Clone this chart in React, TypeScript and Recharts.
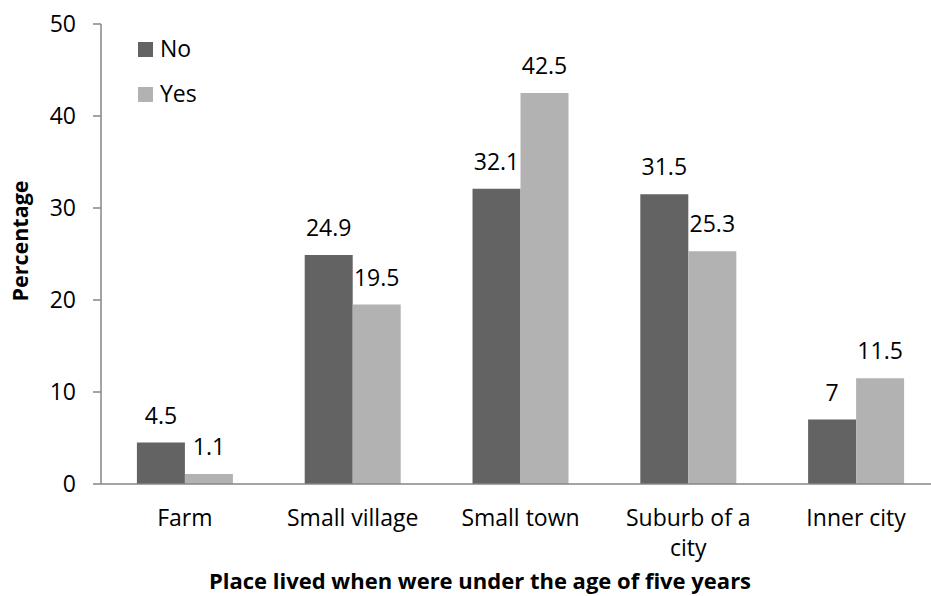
import React from 'react';
import { BarChart, Bar, XAxis, YAxis, LabelList, Legend } from 'recharts';

const categories = ['Farm', 'Small village', 'Small town', 'Suburb of a city', 'Inner city'];
const noValues = [4.5, 24.9, 32.1, 31.5, 7];
const yesValues = [1.1, 19.5, 42.5, 25.3, 11.5];
const yTicks = [0, 10, 20, 30, 40, 50];

const data = categories.map((c, i) => ({ place: c, No: noValues[i], Yes: yesValues[i] }));

const AXIS = '#868686';
const FONT = '"Open Sans", sans-serif';
const TICK_FONT_SIZE = 23;
const TICK_WRAP_WIDTH = 150;

if (typeof document !== 'undefined') {
  document.body.style.margin = '0';
}

let measureCtx: CanvasRenderingContext2D | null = null;
function wrapLabel(s: string, maxW: number): string[] {
  if (typeof document === 'undefined') return [s];
  if (!measureCtx) measureCtx = document.createElement('canvas').getContext('2d');
  if (!measureCtx) return [s];
  measureCtx.font = `${TICK_FONT_SIZE}px "Open Sans"`;
  const words = s.split(' ');
  const lines: string[] = [];
  let cur = '';
  for (const w of words) {
    const test = cur ? cur + ' ' + w : w;
    if (cur && measureCtx.measureText(test).width > maxW) {
      lines.push(cur);
      cur = w;
    } else {
      cur = test;
    }
  }
  if (cur) lines.push(cur);
  return lines;
}

const XTick = (props: any) => {
  const { x, y, payload } = props;
  const lines = wrapLabel(String(payload.value), TICK_WRAP_WIDTH);
  return (
    <text x={x} y={y} textAnchor="middle" fontSize={TICK_FONT_SIZE} fill="#000" fontFamily={FONT}>
      {lines.map((l, i) => (
        <tspan key={i} x={x} dy={i === 0 ? '0.71em' : 30}>
          {l}
        </tspan>
      ))}
    </text>
  );
};

const renderLegend = (props: any) => {
  const payload = props.payload || [];
  return (
    <svg width={220} height={120} style={{ display: 'block' }}>
      {payload.map((p: any, i: number) => (
        <g key={p.value}>
          <rect x={138} y={42 + i * 45} width={15} height={15} fill={p.color} />
          <text x={160} y={57 + i * 45} fontSize={23} fill="#000" fontFamily={FONT}>
            {p.value}
          </text>
        </g>
      ))}
    </svg>
  );
};

export default function App() {
  React.useLayoutEffect(() => {
    document.body.style.margin = '0';
  }, []);
  return (
    <div
      style={{
        width: 931,
        height: 596,
        overflow: 'hidden',
        position: 'relative',
        background: '#fff',
        fontFamily: FONT,
      }}
    >
      <BarChart
        width={960}
        height={596}
        data={data}
        margin={{ top: 24, right: 20, bottom: 32, left: 0 }}
        barCategoryGap="21.4%"
        barGap={0}
      >
        <XAxis
          dataKey="place"
          height={80}
          axisLine={{ stroke: AXIS, strokeWidth: 1.5 }}
          tickLine={false}
          tickSize={0}
          tickMargin={26}
          tick={<XTick />}
          interval={0}
          label={{
            content: () => (
              <text
                x={480}
                y={589}
                textAnchor="middle"
                fontSize={22}
                fontWeight="bold"
                fill="#000"
                fontFamily={FONT}
              >
                Place lived when were under the age of five years
              </text>
            ),
          }}
        />
        <YAxis
          width={101}
          domain={[0, 50]}
          ticks={yTicks}
          interval={0}
          axisLine={{ stroke: AXIS, strokeWidth: 1.5 }}
          tickLine={{ stroke: AXIS, strokeWidth: 1.5 }}
          tickSize={8}
          tickMargin={17}
          tick={{ fontSize: 23, fill: '#000', fontFamily: FONT }}
          label={{
            content: () => (
              <text
                x={28}
                y={241}
                textAnchor="middle"
                transform="rotate(-90, 28, 241)"
                fontSize={21.5}
                fontWeight="bold"
                fill="#000"
                fontFamily={FONT}
              >
                Percentage
              </text>
            ),
          }}
        />
        <Legend
          layout="vertical"
          align="center"
          verticalAlign="middle"
          wrapperStyle={{ left: 0, top: 0, width: 220, height: 120 }}
          content={renderLegend}
        />
        <Bar dataKey="No" fill="#636363" isAnimationActive={false}>
          <LabelList dataKey="No" position="top" offset={19} fontSize={23} fill="#000" fontFamily={FONT} />
        </Bar>
        <Bar dataKey="Yes" fill="#b2b2b2" isAnimationActive={false}>
          <LabelList dataKey="Yes" position="top" offset={19} fontSize={23} fill="#000" fontFamily={FONT} />
        </Bar>
      </BarChart>
    </div>
  );
}
